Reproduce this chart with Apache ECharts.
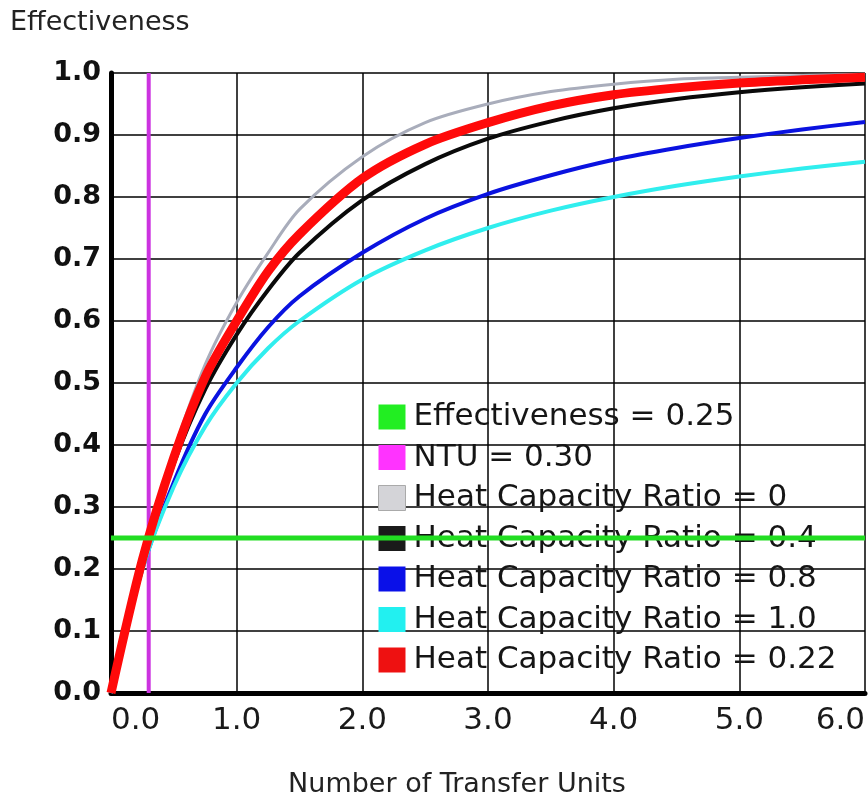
<!DOCTYPE html>
<html>
<head>
    <meta charset="utf-8">
    <title>Effectiveness vs NTU</title>
    <script src="https://cdn.jsdelivr.net/npm/echarts@6/dist/echarts.min.js"></script>
    <style>
        html, body { margin: 0; padding: 0; background: #fff; }
        #chart { width: 868px; height: 804px; }
    </style>
</head>
<body>
<div id="chart"></div>
<script>
    // NTU sample points
    var ntu = [0, 0.25, 0.5, 0.75, 1, 1.25, 1.5, 2, 2.5, 3, 3.5, 4, 4.5, 5, 5.5, 6];
    // effectiveness for each heat capacity ratio
    var cr0   = [0, 0.22, 0.39, 0.53, 0.63, 0.71, 0.78, 0.865, 0.92, 0.95, 0.97, 0.982, 0.99, 0.993, 0.996, 0.998];
    var cr04  = [0, 0.21, 0.37, 0.49, 0.578, 0.65, 0.71, 0.795, 0.853, 0.894, 0.922, 0.943, 0.958, 0.969, 0.977, 0.983];
    var cr08  = [0, 0.2, 0.34, 0.45, 0.525, 0.59, 0.64, 0.71, 0.765, 0.805, 0.835, 0.86, 0.879, 0.895, 0.909, 0.921];
    var cr10  = [0, 0.2, 0.333, 0.43, 0.5, 0.556, 0.6, 0.667, 0.714, 0.75, 0.778, 0.8, 0.818, 0.833, 0.846, 0.857];
    var cr022 = [0, 0.215, 0.38, 0.51, 0.60, 0.68, 0.74, 0.83, 0.885, 0.92, 0.947, 0.965, 0.976, 0.984, 0.989, 0.993];
    var effValue = 0.25;   // horizontal marker
    var ntuValue = 0.30;   // vertical marker
    var xRange = [0, 6];
    var yRange = [0, 1];
    var names = [
        'Effectiveness = 0.25',
        'NTU = 0.30',
        'Heat Capacity Ratio = 0',
        'Heat Capacity Ratio = 0.4',
        'Heat Capacity Ratio = 0.8',
        'Heat Capacity Ratio = 1.0',
        'Heat Capacity Ratio = 0.22'
    ];

    function pairs(ys) {
        var out = [];
        for (var i = 0; i < ntu.length; i++) {
            out.push([ntu[i], ys[i]]);
        }
        return out;
    }

    function curve(name, ys, color, width, z) {
        return {
            name: name,
            type: 'line',
            data: pairs(ys),
            smooth: 0.3,
            showSymbol: false,
            color: color,
            lineStyle: { color: color, width: width },
            z: z
        };
    }

    var myChart = echarts.init(document.getElementById('chart'));
    var option = {
        animation: false,
        textStyle: { fontFamily: '"DejaVu Sans", sans-serif' },
        grid: { left: 111, right: 3, top: 73, bottom: 111, outerBoundsMode: 'none' },
        legend: {
            orient: 'vertical',
            left: 378,
            top: 399,
            padding: 0,
            itemWidth: 27,
            itemHeight: 25,
            itemGap: 4.5,
            icon: 'rect',
            textStyle: { fontSize: 31, color: '#151515', lineHeight: 32, padding: [4, 0, 0, 3] },
            data: [
                { name: names[0], itemStyle: { color: '#22ee22' } },
                { name: names[1], itemStyle: { color: '#ff33ff' } },
                { name: names[2], itemStyle: { color: '#d4d4d8', borderColor: '#aaaaaa', borderWidth: 1 } },
                { name: names[3], itemStyle: { color: '#1a1a1a' } },
                { name: names[4], itemStyle: { color: '#0a10e8' } },
                { name: names[5], itemStyle: { color: '#22f0f0' } },
                { name: names[6], itemStyle: { color: '#ee1111' } }
            ]
        },
        xAxis: {
            type: 'value',
            min: xRange[0],
            max: xRange[1],
            interval: 1,
            name: 'Number of Transfer Units',
            nameLocation: 'middle',
            nameGap: 78,
            nameTextStyle: { fontSize: 27, color: '#222', padding: [0, 62, 0, 0] },
            axisLine: { show: true, onZero: false, lineStyle: { color: '#000', width: 5 } },
            axisTick: { show: false },
            axisLabel: {
                fontSize: 31,
                color: '#1a1a1a',
                margin: 12,
                alignMinLabel: 'left',
                alignMaxLabel: 'right',
                formatter: function (v) { return v.toFixed(1); }
            },
            splitLine: { show: true, lineStyle: { color: '#000', width: 1.5 } }
        },
        yAxis: {
            type: 'value',
            min: yRange[0],
            max: yRange[1],
            interval: 0.1,
            name: 'Effectiveness',
            nameLocation: 'end',
            nameGap: 37,
            nameTextStyle: { fontSize: 27, color: '#222', align: 'left', padding: [0, 0, 0, -101] },
            axisLine: { show: true, lineStyle: { color: '#000', width: 5 } },
            axisTick: { show: false },
            axisLabel: {
                fontSize: 27,
                fontWeight: 'bold',
                color: '#111',
                margin: 10,
                formatter: function (v) { return v.toFixed(1); }
            },
            splitLine: { show: true, lineStyle: { color: '#000', width: 1.5 } }
        },
        series: [
            {
                name: names[0],
                type: 'line',
                data: [[xRange[0], effValue], [xRange[1], effValue]],
                showSymbol: false,
                color: '#22ee22',
                lineStyle: { color: '#22dd22', width: 5 },
                z: 6
            },
            {
                name: names[1],
                type: 'line',
                data: [[ntuValue, yRange[0]], [ntuValue, yRange[1]]],
                showSymbol: false,
                color: '#ff33ff',
                lineStyle: { color: '#cc33e0', width: 4 },
                z: 3
            },
            curve(names[2], cr0, '#a9adbb', 3, 2),
            curve(names[3], cr04, '#0a0a0a', 4, 3),
            curve(names[4], cr08, '#0a12e0', 4, 3),
            curve(names[5], cr10, '#30eeee', 4, 3),
            curve(names[6], cr022, '#ff0a0a', 9, 4)
        ]
    };
    myChart.setOption(option);
</script>
</body>
</html>
